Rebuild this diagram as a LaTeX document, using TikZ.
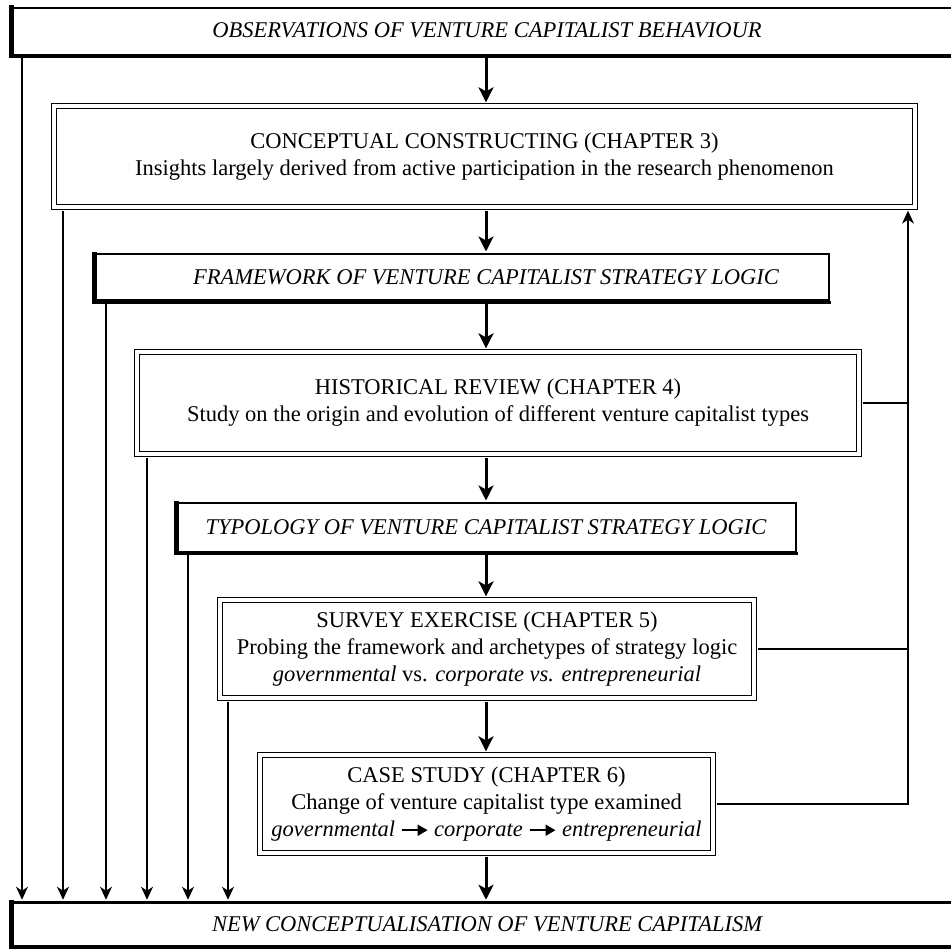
\documentclass[tikz,border=0pt]{standalone}
\usepackage{fontspec}
\setmainfont{Liberation Serif}
\usetikzlibrary{arrows.meta}

\newcommand\stagefont{\fontsize{22.5}{27}\selectfont}
% heavy inline arrow used inside the case-study line
\newcommand\heavyarrow{\tikz[baseline=-0.6ex]\draw[line width=1.9pt,-{Triangle[length=10pt,width=11pt]}] (0pt,0pt) -- (26pt,0pt);}
% thicker left and bottom edges of the theme boxes
\newcommand\thickedges[1]{%
  \fill ([xshift=-1.25pt,yshift=1.25pt]#1.north west) rectangle ([xshift=3.75pt,yshift=-1.25pt]#1.south west);
  \fill ([xshift=-1.25pt,yshift=-2.25pt]#1.south west) rectangle ([xshift=1.25pt,yshift=1.25pt]#1.south east);}

\tikzset{
  flowarrow/.style={line width=3pt,-{Stealth[length=15pt,width=15pt,inset=4pt]}},
  sidearrow/.style={line width=1.3pt,-{Stealth[length=13pt,width=12pt,inset=4pt]}},
  link/.style={line width=1.3pt},
  stagebox/.style={draw, double, double distance=3.2pt, line width=1.3pt,
    inner sep=0pt, align=center, font=\stagefont},
  themebox/.style={draw, line width=2.5pt, inner sep=0pt, align=center,
    font=\stagefont\itshape},
  themetext/.style={inner sep=0pt, font=\stagefont\itshape},
}

\begin{document}
\begin{tikzpicture}[x=1pt,y=-1pt]
\useasboundingbox (0,0) rectangle (951,949);
\clip (0,0) rectangle (951,949);
\fill[white] (0,0) rectangle (951,949);

\coordinate (mid) at (486,0);
\coordinate (rail) at (908,0);

% theme boxes
\node[themebox, minimum width=951pt, minimum height=47pt] (obs) at (487,31.5)
  {\raisebox{2pt}{OBSERVATIONS OF VENTURE CAPITALIST BEHAVIOUR}};
\node[themebox, minimum width=734.5pt, minimum height=46.5pt] (frame) at (461.5,277.5) {};
\node[themetext] (frame-label) at (486,277.5)
  {FRAMEWORK OF VENTURE CAPITALIST STRATEGY LOGIC};
\node[themebox, minimum width=619.5pt, minimum height=48.5pt] (typo) at (486,527.5)
  {TYPOLOGY OF VENTURE CAPITALIST STRATEGY LOGIC};
\node[themebox, minimum width=951pt, minimum height=44pt] (newc) at (487,924.5)
  {NEW CONCEPTUALISATION OF VENTURE CAPITALISM};
\thickedges{obs}
\thickedges{frame}
\thickedges{typo}
\thickedges{newc}

% research stages
\node[stagebox, minimum width=861pt, minimum height=101pt] (concept) at (484.5,156.5)
  {CONCEPTUAL CONSTRUCTING (CHAPTER 3)\\
   Insights largely derived from active participation in the research phenomenon};
\node[stagebox, minimum width=722pt, minimum height=102pt] (hist) at (498,403)
  {HISTORICAL REVIEW (CHAPTER 4)\\
   Study on the origin and evolution of different venture capitalist types};
\node[stagebox, minimum width=534pt, minimum height=98pt] (survey) at (487,649)
  {SURVEY EXERCISE (CHAPTER 5)\\
   Probing the framework and archetypes of strategy logic\\
   \textit{governmental} vs. \textit{corporate vs. entrepreneurial}};
\node[stagebox, minimum width=453pt, minimum height=98pt] (case) at (486.5,804)
  {CASE STUDY (CHAPTER 6)\\
   Change of venture capitalist type examined\\
   \textit{governmental} \heavyarrow\ \textit{corporate} \heavyarrow\ \textit{entrepreneurial}};

% main sequence
\draw[flowarrow, shorten >=3pt] (obs.south -| mid) -- (concept.north -| mid);
\draw[flowarrow, shorten <=3pt, shorten >=1.5pt] (concept.south -| mid) -- (frame.north -| mid);
\draw[flowarrow, shorten <=2pt, shorten >=3pt] (frame.south -| mid) -- (hist.north -| mid);
\draw[flowarrow, shorten <=3pt, shorten >=1.5pt] (hist.south -| mid) -- (typo.north -| mid);
\draw[flowarrow, shorten <=2pt, shorten >=3pt] (typo.south -| mid) -- (survey.north -| mid);
\draw[flowarrow, shorten <=3pt, shorten >=3pt] (survey.south -| mid) -- (case.north -| mid);
\draw[flowarrow, shorten <=3pt, shorten >=1.5pt] (case.south -| mid) -- (newc.north -| mid);

% direct contributions to the new conceptualisation
\draw[sidearrow, shorten >=1.5pt] (obs.south -| 22,0) -- (newc.north -| 22,0);
\draw[sidearrow, shorten <=3pt, shorten >=1.5pt] (concept.south -| 63,0) -- (newc.north -| 63,0);
\draw[sidearrow, shorten <=2pt, shorten >=1.5pt] (frame.south -| 106,0) -- (newc.north -| 106,0);
\draw[sidearrow, shorten <=3pt, shorten >=1.5pt] (hist.south -| 147,0) -- (newc.north -| 147,0);
\draw[sidearrow, shorten <=2pt, shorten >=1.5pt] (typo.south -| 188,0) -- (newc.north -| 188,0);
\draw[sidearrow, shorten <=3pt, shorten >=1.5pt] (survey.south -| 228,0) -- (newc.north -| 228,0);

% feedback to conceptual constructing
\draw[link, shorten <=3pt] (hist.east) -- (hist.east -| rail);
\draw[link, shorten <=3pt] (survey.east) -- (survey.east -| rail);
\draw[sidearrow, shorten <=3pt, shorten >=3pt] (case.east) -- (case.east -| rail) -- (concept.south -| rail);
\end{tikzpicture}
\end{document}
